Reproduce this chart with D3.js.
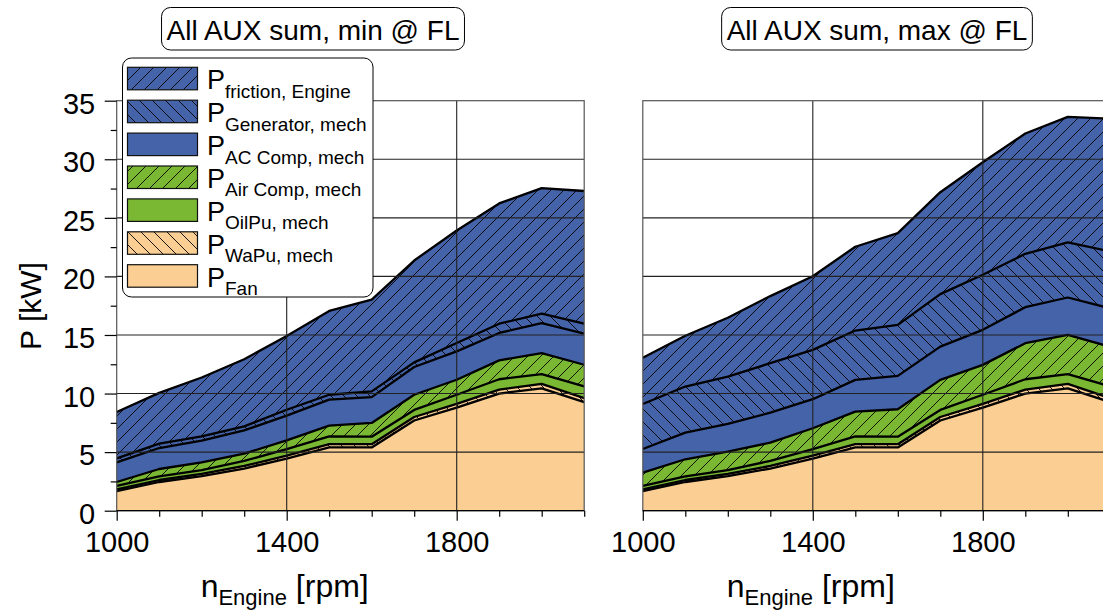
<!DOCTYPE html>
<html>
<head>
<meta charset="utf-8">
<script src="https://cdn.jsdelivr.net/npm/d3@7"></script>
<style>
  html, body { margin: 0; padding: 0; background: #fff; }
  svg { display: block; font-family: "Liberation Sans", Arial, sans-serif; }
</style>
</head>
<body>
<script>
'use strict';

// engine speed grid [rpm]
const rpm = [1000, 1100, 1200, 1300, 1400, 1500, 1600, 1700, 1800, 1900, 2000, 2100];

// power per auxiliary [kW]
const pFan      = [1.68, 2.45, 2.95, 3.6, 4.45, 5.4, 5.4, 7.7, 8.8, 10.0, 10.45, 9.27];
const pWaPu     = [0.15, 0.17, 0.2, 0.22, 0.25, 0.28, 0.28, 0.3, 0.32, 0.34, 0.38, 0.34];
const pOilPu    = [0.29, 0.31, 0.32, 0.43, 0.55, 0.66, 0.64, 0.6, 0.78, 0.88, 0.83, 1.0];
const pAirMin   = [0.33, 0.63, 0.66, 0.62, 0.75, 0.92, 1.17, 1.3, 1.28, 1.61, 1.8, 1.85];
const pAirMax   = [1.13, 1.46, 1.57, 1.56, 1.79, 2.12, 2.34, 2.57, 2.55, 3.08, 3.35, 3.38];
const pAcMin    = [1.68, 1.79, 1.85, 1.99, 2.11, 2.22, 2.21, 2.37, 2.42, 2.34, 2.56, 2.65];
const pAcMax    = [2.02, 2.28, 2.37, 2.56, 2.48, 2.71, 2.85, 2.84, 2.99, 3.07, 3.19, 3.28];
const pGenMin   = [0.34, 0.37, 0.37, 0.34, 0.51, 0.42, 0.49, 0.39, 0.71, 0.79, 0.8, 0.85];
const pGenMax   = [3.84, 3.93, 4.04, 4.22, 4.21, 4.21, 4.35, 4.48, 4.7, 4.56, 4.7, 4.87];
const pFriction = [3.95, 4.34, 5.02, 5.73, 6.29, 7.15, 7.83, 8.7, 9.61, 10.27, 10.72, 11.33];

const panelTitles = ['All AUX sum, min @ FL', 'All AUX sum, max @ FL'];

// stack keys bottom -> top, legend is shown top -> bottom
const keys = ['fan', 'wapu', 'oil', 'air', 'ac', 'gen', 'fric'];
const legendSubs = {
  fric: 'friction, Engine', gen: 'Generator, mech', ac: 'AC Comp, mech',
  air: 'Air Comp, mech', oil: 'OilPu, mech', wapu: 'WaPu, mech', fan: 'Fan'
};

const xTicksMajor = [1000, 1400, 1800];
const xTicksMinor = [1100, 1200, 1300, 1500, 1600, 1700, 1900, 2000, 2100];
const yTicksMajor = [0, 5, 10, 15, 20, 25, 30, 35];
const yTicksMinor = [2.5, 7.5, 12.5, 17.5, 22.5, 27.5, 32.5];

const BLUE = '#4563a9', GREEN = '#7ab834', ORANGE = '#fbce93';
const fills = {
  fan: ORANGE, wapu: 'url(#hatch-wapu)', oil: GREEN, air: 'url(#hatch-air)',
  ac: BLUE, gen: 'url(#hatch-gen)', fric: 'url(#hatch-fric)'
};

const W = 1103, H = 610;
const svg = d3.select('body').append('svg')
  .attr('width', W).attr('height', H).attr('viewBox', [0, 0, W, H]);

// hatch patterns: '/' = up, '\' = down
const defs = svg.append('defs');
function hatch(id, color, dir) {
  const s = 13;
  const p = defs.append('pattern').attr('id', id)
    .attr('patternUnits', 'userSpaceOnUse').attr('width', s).attr('height', s);
  p.append('rect').attr('width', s).attr('height', s).attr('fill', color);
  const d = dir === 'up'
    ? `M0,${s} L${s},0 M-2,2 L2,-2 M${s - 2},${s + 2} L${s + 2},${s - 2}`
    : `M0,0 L${s},${s} M-2,${s - 2} L2,${s + 2} M${s - 2},-2 L${s + 2},2`;
  p.append('path').attr('d', d).attr('stroke', '#000').attr('stroke-width', 0.9);
}
hatch('hatch-fric', BLUE, 'up');
hatch('hatch-gen', BLUE, 'down');
hatch('hatch-air', GREEN, 'up');
hatch('hatch-wapu', ORANGE, 'down');

const y = d3.scaleLinear().domain([0, 35]).range([510.7, 100.7]);
const panelX0 = [116.7, 642.8];
const pxPerRpm = 0.425;
const titleCx = [313, 877];

panelTitles.forEach((title, pi) => {
  const x0 = panelX0[pi];
  const x = d3.scaleLinear().domain([1000, 2100]).range([x0, x0 + 1100 * pxPerRpm]);
  const isMin = pi === 0;

  const rows = rpm.map((r, i) => ({
    rpm: r, fan: pFan[i], wapu: pWaPu[i], oil: pOilPu[i],
    air: (isMin ? pAirMin : pAirMax)[i],
    ac: (isMin ? pAcMin : pAcMax)[i],
    gen: (isMin ? pGenMin : pGenMax)[i],
    fric: pFriction[i]
  }));
  const series = d3.stack().keys(keys)(rows);

  const g = svg.append('g');
  const clipId = 'clip-' + pi;
  defs.append('clipPath').attr('id', clipId).append('rect')
    .attr('x', x(1000)).attr('y', y(35)).attr('width', x(2100) - x(1000)).attr('height', y(0) - y(35));

  const area = d3.area().x(d => x(d.data.rpm)).y0(d => y(d[0])).y1(d => y(d[1]));
  const line = d3.line().x(d => x(d.data.rpm)).y(d => y(d[1]));

  const plot = g.append('g').attr('clip-path', `url(#${clipId})`);
  plot.selectAll('path.area').data(series).join('path')
    .attr('class', 'area')
    .attr('fill', d => fills[d.key])
    .attr('d', area);
  plot.selectAll('path.edge').data(series).join('path')
    .attr('class', 'edge')
    .attr('fill', 'none').attr('stroke', '#000').attr('stroke-width', 2.3)
    .attr('stroke-linejoin', 'round')
    .attr('d', line);

  // grid over the areas
  g.append('g').selectAll('line').data(yTicksMajor.slice(1, -1)).join('line')
    .attr('x1', x(1000)).attr('x2', x(2100)).attr('y1', d => y(d)).attr('y2', d => y(d))
    .attr('stroke', '#222').attr('stroke-width', 1.1);
  g.append('g').selectAll('line').data([1400, 1800]).join('line')
    .attr('x1', d => x(d)).attr('x2', d => x(d)).attr('y1', y(0)).attr('y2', y(35))
    .attr('stroke', '#222').attr('stroke-width', 1.1);

  // frame
  g.append('rect')
    .attr('x', x(1000)).attr('y', y(35)).attr('width', x(2100) - x(1000)).attr('height', y(0) - y(35))
    .attr('fill', 'none').attr('stroke', '#555').attr('stroke-width', 1.2);
  g.append('line').attr('x1', x(1000)).attr('x2', x(2100)).attr('y1', y(0)).attr('y2', y(0))
    .attr('stroke', '#000').attr('stroke-width', 1.3);

  // x axis
  const xMinor = g.append('g').attr('transform', `translate(0,${y(0)})`)
    .call(d3.axisBottom(x).tickValues(xTicksMinor).tickSize(6).tickFormat(''));
  const xMajor = g.append('g').attr('transform', `translate(0,${y(0)})`)
    .call(d3.axisBottom(x).tickValues(xTicksMajor).tickSize(10).tickFormat(d3.format('d')));
  [xMinor, xMajor].forEach(a => {
    a.select('.domain').remove();
    a.selectAll('line').attr('stroke', '#000').attr('stroke-width', 1.2);
  });
  xMajor.selectAll('text')
    .attr('y', 41.6).attr('dy', null)
    .attr('font-size', 29).attr('fill', '#000')
    .attr('font-family', '"Liberation Sans", Arial, sans-serif');

  // y axis, labels only on the left panel
  if (isMin) {
    const yMinor = g.append('g').attr('transform', `translate(${x0},0)`)
      .call(d3.axisLeft(y).tickValues(yTicksMinor).tickSize(6).tickFormat(''));
    const yMajor = g.append('g').attr('transform', `translate(${x0},0)`)
      .call(d3.axisLeft(y).tickValues(yTicksMajor).tickSize(12).tickFormat(d3.format('d')));
    [yMinor, yMajor].forEach(a => {
      a.select('.domain').remove();
      a.selectAll('line').attr('stroke', '#000').attr('stroke-width', 1.2);
    });
    yMajor.selectAll('text')
      .attr('x', -21.5).attr('dy', '0.43em')
      .attr('font-size', 29).attr('fill', '#000')
      .attr('font-family', '"Liberation Sans", Arial, sans-serif');
  }

  // panel title in a rounded box
  const tg = svg.append('g');
  const tt = tg.append('text')
    .attr('x', titleCx[pi]).attr('y', 40).attr('text-anchor', 'middle')
    .attr('font-size', 28).text(title);
  const bb = tt.node().getBBox();
  tg.insert('rect', 'text')
    .attr('x', bb.x - 5).attr('y', 7.5).attr('width', bb.width + 10).attr('height', 42.5)
    .attr('rx', 9).attr('fill', '#fff').attr('stroke', '#000').attr('stroke-width', 1);

  // x axis title
  const xt = svg.append('text')
    .attr('x', x0 + 168).attr('y', 597).attr('text-anchor', 'middle').attr('font-size', 32);
  xt.append('tspan').text('n');
  xt.append('tspan').attr('font-size', 22).attr('dy', 8).text('Engine');
  xt.append('tspan').attr('dy', -8).text(' [rpm]');
});

// y axis title
svg.append('text')
  .attr('transform', 'translate(41,306) rotate(-90)')
  .attr('text-anchor', 'middle').attr('font-size', 30)
  .text('P [kW]');

// legend
const lg = svg.append('g');
lg.append('rect')
  .attr('x', 122.5).attr('y', 58).attr('width', 250.5).attr('height', 239)
  .attr('rx', 9).attr('fill', '#fff').attr('stroke', '#000').attr('stroke-width', 1);
const legendKeys = keys.slice().reverse();
legendKeys.forEach((k, i) => {
  const top = 67.3 + i * 32.9;
  lg.append('rect')
    .attr('x', 127.5).attr('y', top).attr('width', 70).attr('height', 22.5)
    .attr('fill', fills[k]).attr('stroke', '#111').attr('stroke-width', 1.2);
  const t = lg.append('text').attr('x', 207).attr('y', top + 22).attr('font-size', 27);
  t.append('tspan').text('P');
  t.append('tspan').attr('font-size', 19).attr('dy', 8.4).text(legendSubs[k]);
});
</script>
</body>
</html>
